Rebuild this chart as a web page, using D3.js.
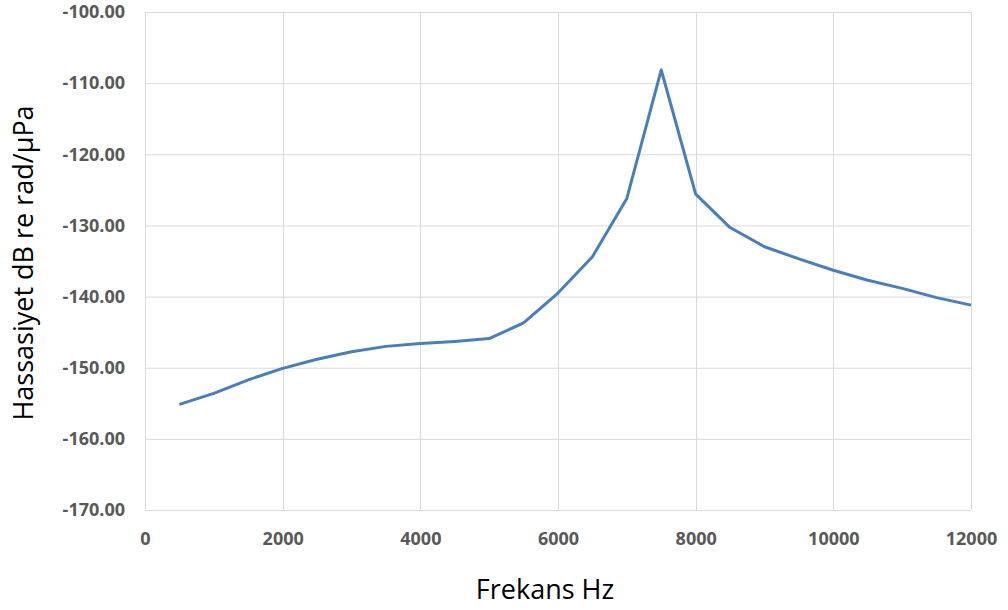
<!DOCTYPE html>
<html>
<head>
<meta charset="utf-8">
<script src="https://cdn.jsdelivr.net/npm/d3@7"></script>
<style>
  html, body { margin: 0; padding: 0; background: #fff; }
  svg { display: block; }
</style>
</head>
<body>
<svg id="chart" width="1008" height="610"></svg>
<script>
// Frequency response: sensitivity (dB re rad/µPa) vs frequency (Hz)
const frequencies = [500, 1000, 1500, 2000, 2500, 3000, 3500, 4000, 4500, 5000, 5500, 6000,
                     6500, 7000, 7500, 8000, 8500, 9000, 9500, 10000, 10500, 11000, 11500, 12000];
const sensitivity = [-155.15, -153.6, -151.7, -150.1, -148.8, -147.75, -147.0, -146.6, -146.3, -145.9, -143.7, -139.5,
                     -134.4, -126.2, -108.15, -125.6, -130.3, -133.0, -134.7, -136.3, -137.7, -138.85, -140.15, -141.2];
const xTicks = [0, 2000, 4000, 6000, 8000, 10000, 12000];
const yTicks = [-170, -160, -150, -140, -130, -120, -110, -100];
const xTitle = "Frekans Hz";
const yTitle = "Hassasiyet dB re rad/µPa";

const svg = d3.select("#chart");
const m = { left: 145, right: 971, top: 12, bottom: 510 };

const x = d3.scaleLinear().domain([0, 12000]).range([m.left, m.right]);
const y = d3.scaleLinear().domain([-170, -100]).range([m.bottom, m.top]);

const labelFont = "'Open Sans', 'Liberation Sans', Arial, sans-serif";

// gridlines
const grid = svg.append("g");
grid.selectAll("line.h").data(yTicks).join("line")
  .attr("x1", m.left).attr("x2", m.right)
  .attr("y1", d => y(d) + 0.5).attr("y2", d => y(d) + 0.5)
  .attr("stroke", "#d9d9d9").attr("stroke-width", 1);
grid.selectAll("line.v").data(xTicks).join("line")
  .attr("y1", m.top).attr("y2", m.bottom)
  .attr("x1", d => Math.round(x(d)) + 0.5).attr("x2", d => Math.round(x(d)) + 0.5)
  .attr("stroke", "#d9d9d9").attr("stroke-width", 1);

// axes (labels only; gridlines draw the frame)
const yAxis = d3.axisLeft(y).tickValues(yTicks).tickFormat(d => d.toFixed(2)).tickSize(0).tickPadding(20);
svg.append("g").attr("transform", `translate(${m.left},0)`).call(yAxis)
  .call(g => g.select(".domain").remove())
  .selectAll("text")
  .attr("font-family", labelFont).attr("font-weight", "bold")
  .attr("font-size", 18).attr("fill", "#595959");

const xAxis = d3.axisBottom(x).tickValues(xTicks).tickFormat(d => String(d)).tickSize(0).tickPadding(22);
svg.append("g").attr("transform", `translate(0,${m.bottom})`).call(xAxis)
  .call(g => g.select(".domain").remove())
  .selectAll("text")
  .attr("font-family", labelFont).attr("font-weight", "bold")
  .attr("font-size", 18).attr("fill", "#595959");

// data line
const pts = frequencies.map((f, i) => [f, sensitivity[i]]);
svg.append("path")
  .datum(pts)
  .attr("fill", "none")
  .attr("stroke", "#4a7ebb")
  .attr("stroke-width", 3)
  .attr("stroke-linejoin", "round")
  .attr("d", d3.line().x(d => x(d[0])).y(d => y(d[1])));

// axis titles
svg.append("text")
  .attr("x", 545).attr("y", 599)
  .attr("text-anchor", "middle")
  .attr("font-family", labelFont).attr("font-size", 27).attr("fill", "#000")
  .text(xTitle);

svg.append("text")
  .attr("transform", "translate(33,263) rotate(-90)")
  .attr("text-anchor", "middle")
  .attr("font-family", labelFont).attr("font-size", 27).attr("fill", "#000")
  .text(yTitle);
</script>
</body>
</html>
